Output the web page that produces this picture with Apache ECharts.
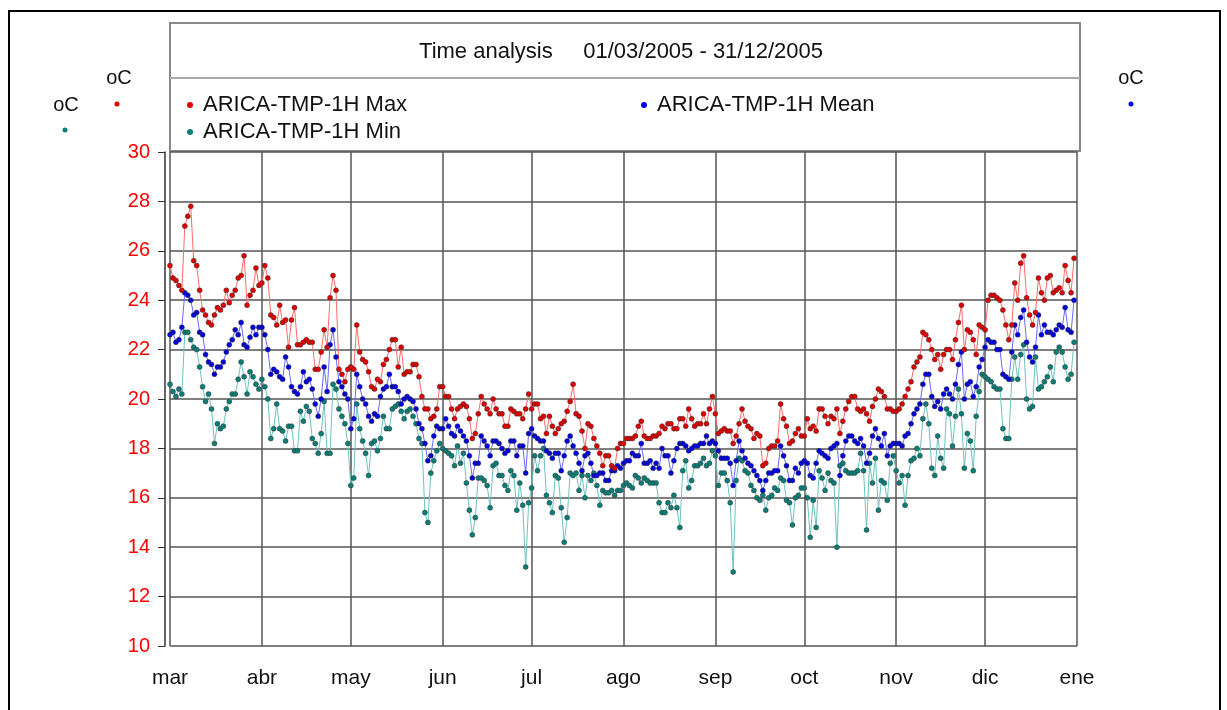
<!DOCTYPE html>
<html>
<head>
<meta charset="utf-8">
<script src="https://cdn.jsdelivr.net/npm/echarts@6/dist/echarts.min.js"></script>
<style>
  html, body { margin: 0; padding: 0; background: #fff; }
  #chart { width: 1227px; height: 710px; }
</style>
</head>
<body>
<div id="chart"></div>
<script>
// daily values 01/03/2005 - 31/12/2005, one line per month
const maxT = [
  25.4, 24.9, 24.8, 24.6, 24.4, 27.0, 27.4, 27.8, 25.6, 25.4, 24.4, 23.6, 23.4, 23.1, 23.0, 23.4, 23.7, 23.6, 23.8, 24.4, 23.9, 24.2, 24.4, 24.9, 25.0, 25.8, 23.8, 24.2, 24.4, 25.3, 24.6, // mar
  24.7, 25.4, 24.9, 23.4, 23.3, 23.0, 23.8, 23.1, 23.2, 22.1, 23.2, 23.7, 22.2, 22.2, 22.3, 22.4, 22.3, 22.3, 21.2, 21.2, 21.9, 22.8, 22.1, 24.1, 25.0, 24.4, 21.2, 21.0, 20.7, 21.2, // abr
  21.3, 21.2, 23.0, 21.9, 21.6, 21.5, 21.1, 20.5, 20.4, 20.8, 20.7, 21.4, 21.6, 22.0, 22.4, 22.4, 21.3, 22.1, 21.0, 21.1, 21.1, 21.4, 21.4, 20.9, 20.1, 19.6, 19.6, 19.2, 19.3, 19.6, 20.5, // may
  20.5, 20.1, 20.1, 19.6, 19.2, 19.6, 19.7, 19.8, 19.7, 19.2, 18.4, 18.6, 19.4, 20.1, 19.8, 19.6, 19.4, 20.0, 19.6, 19.4, 19.4, 18.9, 18.9, 19.6, 19.5, 19.4, 19.4, 19.2, 19.6, 20.2, // jun
  19.6, 19.8, 19.8, 19.2, 19.3, 18.6, 19.3, 18.9, 18.6, 18.8, 19.0, 19.1, 19.5, 19.9, 20.6, 19.4, 19.3, 18.7, 18.0, 19.0, 18.9, 18.4, 18.1, 17.8, 17.3, 17.7, 17.7, 17.3, 17.2, 18.0, 18.2, // jul
  18.2, 18.4, 18.4, 18.4, 18.5, 18.9, 19.1, 18.5, 18.4, 18.4, 18.5, 18.5, 18.6, 18.9, 18.8, 19.0, 19.0, 18.8, 18.8, 19.2, 19.2, 18.9, 19.6, 19.2, 18.9, 19.0, 19.0, 19.4, 19.0, 19.6, 20.1, // ago
  19.4, 18.6, 18.7, 18.8, 18.7, 18.7, 18.2, 18.5, 19.0, 19.6, 19.1, 18.9, 18.8, 18.4, 18.6, 18.5, 17.3, 17.4, 18.0, 18.1, 18.1, 18.3, 19.8, 19.2, 18.9, 18.2, 18.3, 18.6, 18.8, 18.5, // sep
  18.5, 19.2, 18.8, 18.9, 18.7, 19.6, 19.6, 19.3, 19.0, 19.3, 19.2, 19.6, 18.6, 19.1, 19.6, 19.9, 20.1, 20.1, 19.6, 19.5, 19.6, 19.4, 19.1, 19.7, 20.0, 20.4, 20.3, 20.1, 19.6, 19.6, 19.5, // oct
  19.5, 19.6, 19.8, 20.1, 20.4, 20.7, 21.3, 21.5, 21.7, 22.7, 22.6, 22.4, 22.0, 21.6, 21.8, 21.2, 21.8, 22.0, 22.0, 21.6, 22.4, 23.1, 23.8, 22.0, 22.8, 22.7, 22.4, 21.8, 23.0, 22.9, // nov
  22.8, 24.0, 24.2, 24.2, 24.1, 24.0, 23.6, 23.0, 22.4, 23.0, 24.7, 24.0, 25.5, 25.8, 24.1, 23.4, 23.0, 23.5, 24.9, 24.3, 24.0, 24.9, 25.0, 24.3, 24.4, 24.5, 24.3, 25.4, 24.8, 24.3, 25.7  // dic
]
const meanT = [
  22.6, 22.7, 22.3, 22.4, 22.9, 24.3, 24.2, 24.0, 23.4, 23.5, 22.7, 22.6, 21.8, 21.5, 21.4, 21.0, 21.3, 21.3, 21.5, 21.9, 22.2, 22.4, 22.8, 22.6, 23.1, 22.2, 22.1, 22.5, 22.9, 22.6, 22.9,
  22.9, 22.6, 22.0, 21.0, 21.2, 21.1, 20.9, 20.8, 21.7, 21.3, 20.5, 20.3, 20.2, 20.5, 21.1, 20.7, 20.8, 20.4, 19.8, 19.3, 20.0, 21.3, 20.3, 22.2, 22.8, 21.7, 20.7, 20.5, 20.2, 20.0,
  18.8, 19.2, 21.0, 20.5, 20.0, 19.8, 19.3, 19.1, 19.4, 19.3, 20.1, 20.4, 20.5, 21.0, 20.5, 20.5, 20.3, 19.8, 20.0, 20.1, 20.0, 19.9, 19.6, 19.0, 18.8, 18.2, 17.5, 17.7, 18.5, 18.9, 18.8,
  18.8, 19.2, 18.9, 18.6, 18.5, 18.9, 18.7, 18.5, 18.3, 17.7, 16.8, 17.4, 17.4, 18.5, 18.3, 18.1, 17.7, 18.3, 18.3, 18.2, 18.0, 17.8, 17.9, 18.3, 18.3, 17.7, 18.1, 18.1, 17.0, 18.6,
  18.8, 18.5, 18.4, 18.3, 18.3, 17.9, 17.8, 17.6, 17.8, 17.8, 17.1, 17.7, 18.3, 18.5, 18.1, 17.8, 17.4, 17.1, 17.7, 17.8, 17.4, 16.9, 16.9, 17.0, 17.0, 16.7, 16.7, 17.1, 17.1, 17.3, 17.2,
  17.4, 17.5, 17.5, 17.8, 17.7, 17.7, 18.2, 17.4, 17.4, 17.5, 17.2, 17.4, 17.2, 18.0, 17.7, 17.7, 17.0, 17.5, 18.0, 18.2, 18.2, 18.1, 17.9, 18.0, 18.1, 18.1, 18.2, 18.2, 18.5, 18.2, 18.3,
  18.2, 17.9, 17.6, 17.6, 17.6, 17.4, 16.5, 17.5, 18.3, 17.9, 17.6, 17.4, 17.3, 17.1, 16.9, 16.7, 16.3, 16.7, 17.0, 17.0, 17.1, 17.1, 18.1, 17.7, 17.3, 16.7, 16.7, 17.2, 17.0, 17.4,
  17.5, 17.4, 16.9, 16.8, 17.4, 17.9, 17.8, 17.7, 17.6, 18.0, 18.1, 18.2, 16.9, 17.7, 18.3, 18.5, 18.5, 18.3, 18.2, 18.4, 18.1, 17.4, 17.8, 18.5, 18.8, 18.4, 18.1, 18.6, 17.7, 18.1, 18.2,
  18.2, 18.2, 18.1, 18.5, 18.6, 19.0, 19.4, 19.6, 19.8, 20.6, 21.0, 21.0, 20.1, 19.7, 19.9, 19.6, 20.2, 20.4, 20.2, 20.0, 20.6, 21.4, 21.9, 20.0, 20.6, 20.7, 20.1, 20.5, 21.3, 21.6,
  22.1, 22.4, 22.3, 22.3, 22.0, 22.0, 21.0, 20.9, 20.8, 21.9, 23.0, 22.6, 23.3, 23.6, 22.3, 21.7, 21.5, 22.1, 23.4, 22.6, 23.0, 22.7, 22.7, 22.6, 22.8, 23.0, 22.9, 23.7, 22.8, 22.7, 24.0
]
const minT = [
  20.6, 20.3, 20.1, 20.4, 20.2, 22.7, 22.7, 22.4, 22.1, 22.0, 21.3, 20.5, 19.9, 20.2, 19.6, 18.2, 19.0, 18.8, 18.9, 19.6, 19.9, 20.2, 20.2, 20.8, 21.5, 20.9, 20.2, 21.1, 20.9, 20.6, 20.4,
  20.8, 20.5, 20.0, 18.4, 18.8, 19.8, 18.8, 18.7, 18.3, 18.9, 18.9, 17.9, 17.9, 19.5, 19.1, 19.7, 19.5, 18.4, 18.2, 17.8, 18.6, 19.9, 17.8, 17.8, 20.6, 20.4, 19.6, 19.3, 19.0, 18.2,
  16.5, 16.8, 19.8, 18.8, 18.3, 17.8, 16.9, 18.2, 18.3, 17.9, 18.4, 19.3, 18.8, 18.8, 19.6, 19.7, 19.8, 19.5, 19.2, 19.5, 19.6, 19.3, 19.0, 18.4, 18.2, 15.4, 15.0, 17.0, 17.5, 17.9, 18.2,
  18.0, 17.9, 17.8, 17.7, 17.3, 18.1, 17.4, 17.8, 16.6, 15.5, 14.5, 15.2, 16.8, 16.8, 16.7, 16.5, 15.6, 17.3, 17.4, 16.9, 16.9, 16.5, 16.3, 17.1, 16.9, 15.5, 16.6, 15.7, 13.2, 15.8,
  16.4, 17.7, 17.1, 17.7, 18.0, 16.1, 15.8, 15.4, 16.9, 16.8, 15.6, 14.2, 15.2, 17.0, 16.9, 17.0, 16.3, 16.9, 16.0, 16.9, 16.7, 17.0, 16.5, 15.7, 16.3, 16.2, 16.2, 16.3, 16.1, 16.3, 16.3,
  16.5, 16.6, 16.5, 16.4, 16.9, 16.8, 16.6, 16.8, 16.7, 16.6, 16.6, 16.6, 15.8, 15.4, 15.4, 15.8, 15.6, 16.1, 15.6, 14.8, 17.1, 17.5, 16.4, 16.7, 17.3, 17.3, 17.4, 17.6, 17.3, 17.4, 17.9,
  17.7, 16.5, 17.0, 17.0, 16.7, 15.8, 13.0, 16.7, 17.6, 17.5, 17.1, 17.0, 16.5, 16.3, 16.0, 15.9, 16.1, 15.5, 16.0, 16.1, 16.4, 16.3, 16.8, 16.7, 15.9, 15.8, 14.9, 16.0, 16.1, 16.4,
  16.4, 16.0, 14.4, 15.9, 14.8, 17.1, 16.8, 16.3, 17.0, 16.7, 16.6, 14.0, 17.3, 17.4, 17.1, 17.0, 17.0, 17.0, 17.1, 17.8, 17.1, 14.7, 17.4, 16.6, 17.6, 15.5, 16.7, 16.6, 15.9, 17.4, 17.7,
  17.1, 16.6, 16.9, 15.7, 16.9, 17.5, 17.6, 18.0, 17.7, 19.2, 19.8, 19.0, 17.2, 16.9, 18.5, 17.6, 17.2, 19.6, 19.4, 18.1, 19.3, 20.4, 19.4, 17.2, 18.6, 18.3, 17.1, 19.3, 20.3, 21.0,
  20.9, 20.8, 20.7, 20.5, 20.4, 20.4, 18.8, 18.4, 18.4, 20.8, 21.7, 20.8, 21.8, 22.2, 20.0, 19.6, 19.7, 21.7, 20.4, 20.5, 20.7, 20.9, 21.3, 20.7, 21.9, 22.1, 21.9, 21.3, 20.8, 21.0, 22.3
]
const monthLabels = ['mar', 'abr', 'may', 'jun', 'jul', 'ago', 'sep', 'oct', 'nov', 'dic', 'ene']
const seriesNames = ['ARICA-TMP-1H Max', 'ARICA-TMP-1H Mean', 'ARICA-TMP-1H Min']
const titleText = 'Time analysis     01/03/2005 - 31/12/2005'

// one category per day, 01/03/2005 .. 01/01/2006 (last one closes the axis)
const days = []
const d = new Date(Date.UTC(2005, 2, 1))
while (d <= Date.UTC(2006, 0, 1)) {
  days.push(d.toISOString().slice(0, 10))
  d.setUTCDate(d.getUTCDate() + 1)
}
const isMonthStart = (i, v) => v.slice(8) === '01'
const monthOf = v => (Number(v.slice(0, 4)) - 2005) * 12 + Number(v.slice(5, 7)) - 3

const font = 'Liberation Sans, Arial, sans-serif'
const chart = echarts.init(document.getElementById('chart'))

function line(name, data, dot, stroke) {
  return {
    name: name,
    type: 'line',
    data: data,
    symbol: 'circle',
    symbolSize: 5,
    showAllSymbol: true,
    itemStyle: { color: dot, borderColor: '#333', borderWidth: 0.5 },
    lineStyle: { color: stroke, width: 1 },
    emphasis: { disabled: true }
  }
}

const legendBase = {
  icon: 'circle',
  itemWidth: 6,
  itemHeight: 6,
  itemGap: 10,
  itemStyle: { borderWidth: 0 },
  textStyle: { fontSize: 22, color: '#111', fontFamily: font, padding: [0, 0, 0, 5] },
  selectedMode: false
}

chart.setOption({
  animation: false,
  backgroundColor: '#fff',
  grid: { left: 170, right: 150, top: 152, bottom: 64 },
  graphic: [
    // outer frame
    { type: 'rect', shape: { x: 9, y: 11, width: 1211, height: 720 }, style: { fill: 'none', stroke: '#000', lineWidth: 2 }, z: -10 },
    // title / legend box
    { type: 'rect', shape: { x: 170, y: 23, width: 910, height: 128 }, style: { fill: '#fff', stroke: '#888', lineWidth: 2 }, z: -5 },
    { type: 'line', shape: { x1: 170, y1: 78, x2: 1080, y2: 78 }, style: { stroke: '#aaa', lineWidth: 2 }, z: -4 },
    { type: 'text', x: 621, y: 52, style: { text: titleText, fontSize: 22, fontFamily: font, fill: '#111', align: 'center', verticalAlign: 'middle' } },
    // unit labels
    { type: 'text', x: 66, y: 105, style: { text: 'oC', fontSize: 20, fontFamily: font, fill: '#111', align: 'center', verticalAlign: 'middle' } },
    { type: 'circle', shape: { cx: 65, cy: 130, r: 2.5 }, style: { fill: '#0a7f78' } },
    { type: 'text', x: 119, y: 78, style: { text: 'oC', fontSize: 20, fontFamily: font, fill: '#111', align: 'center', verticalAlign: 'middle' } },
    { type: 'circle', shape: { cx: 117, cy: 104, r: 2.5 }, style: { fill: '#e00000' } },
    { type: 'text', x: 1131, y: 78, style: { text: 'oC', fontSize: 20, fontFamily: font, fill: '#111', align: 'center', verticalAlign: 'middle' } },
    { type: 'circle', shape: { cx: 1131, cy: 104, r: 2.5 }, style: { fill: '#0000e0' } }
  ],
  legend: [
    Object.assign({}, legendBase, { data: [seriesNames[0]], left: 182, top: 89 }),
    Object.assign({}, legendBase, { data: [seriesNames[1]], left: 636, top: 89 }),
    Object.assign({}, legendBase, { data: [seriesNames[2]], left: 182, top: 116 })
  ],
  xAxis: {
    type: 'category',
    data: days,
    boundaryGap: false,
    axisLine: { show: false },
    axisTick: { show: false },
    axisLabel: {
      interval: isMonthStart,
      formatter: v => monthLabels[monthOf(v)],
      fontSize: 21,
      fontFamily: font,
      color: '#111',
      margin: 22
    },
    splitLine: { show: true, interval: isMonthStart, lineStyle: { color: '#555', width: 1.5 } }
  },
  yAxis: {
    type: 'value',
    min: 10,
    max: 30,
    interval: 2,
    offset: 5,
    axisLine: { show: true, lineStyle: { color: '#333', width: 1.5 } },
    axisTick: { show: true, length: 7, lineStyle: { color: '#333' } },
    axisLabel: { fontSize: 20, fontFamily: font, color: '#ff0000', margin: 15 },
    splitLine: { show: true, lineStyle: { color: '#555', width: 1.5 } }
  },
  series: [
    line(seriesNames[2], minT, '#0a7f78', '#6cc4c0'),
    line(seriesNames[1], meanT, '#0000e0', '#6a6aff'),
    line(seriesNames[0], maxT, '#e00000', '#ff6a6a')
  ]
})
</script>
</body>
</html>
